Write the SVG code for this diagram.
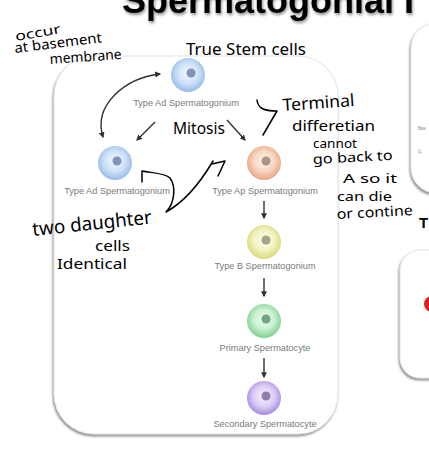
<svg xmlns="http://www.w3.org/2000/svg" width="429" height="452" viewBox="0 0 429 452">
<defs>
<filter id="pshadow" x="-10%" y="-10%" width="120%" height="120%">
<feDropShadow dx="-1" dy="2" stdDeviation="1" flood-color="#777" flood-opacity="0.8"/>
</filter>
<filter id="tshadow" x="-5%" y="-50%" width="110%" height="200%">
<feDropShadow dx="1" dy="2" stdDeviation="1.5" flood-color="#000" flood-opacity="0.45"/>
</filter>
<radialGradient id="gBlue" cx="50%" cy="45%" r="55%"><stop offset="0" stop-color="#f4f9ff"/><stop offset="0.55" stop-color="#cfe2f8"/><stop offset="1" stop-color="#96bbe8"/></radialGradient>
<radialGradient id="gOrange" cx="50%" cy="45%" r="55%"><stop offset="0" stop-color="#fff6f0"/><stop offset="0.55" stop-color="#f8d6c0"/><stop offset="1" stop-color="#e7a47f"/></radialGradient>
<radialGradient id="gYellow" cx="50%" cy="45%" r="55%"><stop offset="0" stop-color="#fdfdef"/><stop offset="0.55" stop-color="#f3f3c2"/><stop offset="1" stop-color="#d6d87a"/></radialGradient>
<radialGradient id="gGreen" cx="50%" cy="45%" r="55%"><stop offset="0" stop-color="#f2fcf3"/><stop offset="0.55" stop-color="#c9f0d0"/><stop offset="1" stop-color="#7cd08c"/></radialGradient>
<radialGradient id="gPurple" cx="50%" cy="45%" r="55%"><stop offset="0" stop-color="#f7f2fe"/><stop offset="0.55" stop-color="#ddd0f6"/><stop offset="1" stop-color="#a68ade"/></radialGradient>
<marker id="ah" viewBox="0 0 10 10" refX="8" refY="5" markerWidth="6" markerHeight="6" orient="auto-start-reverse" markerUnits="userSpaceOnUse">
<path d="M0,0 L10,5 L0,10 Z" fill="#333"/>
</marker>
</defs>
<style>
.panel{fill:#fff;stroke:#e4e4e4;stroke-width:1;filter:url(#pshadow)}
.lbl{font-family:"Liberation Sans",Arial,sans-serif;font-size:9.2px;fill:#7a7a7a;text-anchor:middle}
.conn{fill:none;stroke:#333;stroke-width:1.4;marker-end:url(#ah)}
.hand{font-family:"Noto Sans","DejaVu Sans",sans-serif;fill:#000}
.pen{fill:none;stroke:#000;stroke-width:1.5;stroke-linecap:round;stroke-linejoin:round}
.nuc{stroke:none}
</style>
<rect width="429" height="452" fill="#fff"/>
<text x="122" y="13" font-family="Liberation Sans,Arial,sans-serif" font-weight="bold" font-size="36" fill="#000" filter="url(#tshadow)">Spermatogonial I</text>

<rect class="panel" x="54" y="56" width="284" height="378" rx="40"/>
<rect class="panel" x="411" y="23" width="60" height="170" rx="25"/>
<rect class="panel" x="400" y="250" width="60" height="128" rx="20"/>
<text x="418" y="130" font-family="Liberation Sans,Arial,sans-serif" font-size="4.5" fill="#888">Bas</text>
<text x="418" y="153" font-family="Liberation Sans,Arial,sans-serif" font-size="4.5" fill="#888">(L</text>
<circle cx="432" cy="304" r="8" fill="#e01e1e"/>
<text x="419" y="228" font-family="Liberation Sans,Arial,sans-serif" font-weight="bold" font-size="15" fill="#000">T</text>

<g id="connectors">
<path class="conn" d="M103,137 C93,105 125,78 160,74" marker-start="url(#ah)"/>
<path class="conn" d="M155,122 L137,140"/>
<path class="conn" d="M227,120 L245,140"/>
<path class="conn" d="M264,201 L264,218"/>
<path class="conn" d="M264,278 L264,296"/>
<path class="conn" d="M264,358 L264,377"/>
</g>

<g id="node-ad-top">
<circle cx="188" cy="75" r="17" fill="url(#gBlue)"/>
<circle class="nuc" cx="191" cy="73" r="4.5" fill="#8294b6"/>
<text class="lbl" x="186" y="106">Type Ad Spermatogonium</text>
</g>
<g id="node-ad-left">
<circle cx="115" cy="163" r="17" fill="url(#gBlue)"/>
<circle class="nuc" cx="117" cy="161" r="4.5" fill="#8294b6"/>
<text class="lbl" x="117" y="194">Type Ad Spermatogonium</text>
</g>
<g id="node-ap">
<circle cx="264" cy="163" r="17" fill="url(#gOrange)"/>
<circle class="nuc" cx="266" cy="161" r="4.5" fill="#a89585"/>
<text class="lbl" x="265" y="194">Type Ap Spermatogonium</text>
</g>
<g id="node-b">
<circle cx="264" cy="242" r="17" fill="url(#gYellow)"/>
<circle class="nuc" cx="266" cy="240" r="4.5" fill="#a0a582"/>
<text class="lbl" x="265" y="269">Type B Spermatogonium</text>
</g>
<g id="node-primary">
<circle cx="264" cy="321" r="17" fill="url(#gGreen)"/>
<circle class="nuc" cx="266" cy="319" r="4.5" fill="#72a382"/>
<text class="lbl" x="265" y="351">Primary Spermatocyte</text>
</g>
<g id="node-secondary">
<circle cx="264" cy="398" r="17" fill="url(#gPurple)"/>
<circle class="nuc" cx="266" cy="396" r="4.5" fill="#8f7dac"/>
<text class="lbl" x="265" y="427">Secondary Spermatocyte</text>
</g>

<g id="annotations">
<text class="hand" x="16" y="41" font-size="13" textLength="46" lengthAdjust="spacingAndGlyphs" transform="rotate(-10 16 41)">occur</text>
<text class="hand" x="15" y="53" font-size="14" textLength="88" lengthAdjust="spacingAndGlyphs" transform="rotate(-7 15 53)">at basement</text>
<text class="hand" x="50" y="64" font-size="14" textLength="72" lengthAdjust="spacingAndGlyphs" transform="rotate(-4 50 64)">membrane</text>
<text class="hand" x="186" y="55" font-size="16" textLength="120" lengthAdjust="spacingAndGlyphs">True Stem cells</text>
<text class="hand" x="173" y="134" font-size="16" textLength="52" lengthAdjust="spacingAndGlyphs">Mitosis</text>
<text class="hand" x="283" y="111" font-size="17" textLength="72" lengthAdjust="spacingAndGlyphs" transform="rotate(-4 283 111)">Terminal</text>
<text class="hand" x="292" y="131" font-size="14" textLength="83" lengthAdjust="spacingAndGlyphs">differetian</text>
<text class="hand" x="313" y="148" font-size="12" textLength="44" lengthAdjust="spacingAndGlyphs">cannot</text>
<text class="hand" x="313" y="164" font-size="13.5" textLength="80" lengthAdjust="spacingAndGlyphs" transform="rotate(-3 313 164)">go back to</text>
<text class="hand" x="343" y="183" font-size="13" textLength="54" lengthAdjust="spacingAndGlyphs">A so it</text>
<text class="hand" x="337" y="201" font-size="13" textLength="55" lengthAdjust="spacingAndGlyphs">can die</text>
<text class="hand" x="337" y="219" font-size="14" textLength="76" lengthAdjust="spacingAndGlyphs" transform="rotate(-3 337 219)">or contine</text>
<text class="hand" x="33" y="236" font-size="19" textLength="120" lengthAdjust="spacingAndGlyphs" transform="rotate(-6 33 236)">two daughter</text>
<text class="hand" x="95" y="251" font-size="15" textLength="35" lengthAdjust="spacingAndGlyphs">cells</text>
<text class="hand" x="57" y="269" font-size="14" textLength="70" lengthAdjust="spacingAndGlyphs">Identical</text>
<path class="pen" d="M257,100 C258,108 263,111 277,111 L263,135"/>
<path class="pen" d="M212,164 L225,161 L218,176"/>
<path class="pen" d="M213,161 C203,178 188,200 166,212 C175,203 176,186 170,178 C165,173 152,173 142,171 L142,182"/>
</g>
</svg>
